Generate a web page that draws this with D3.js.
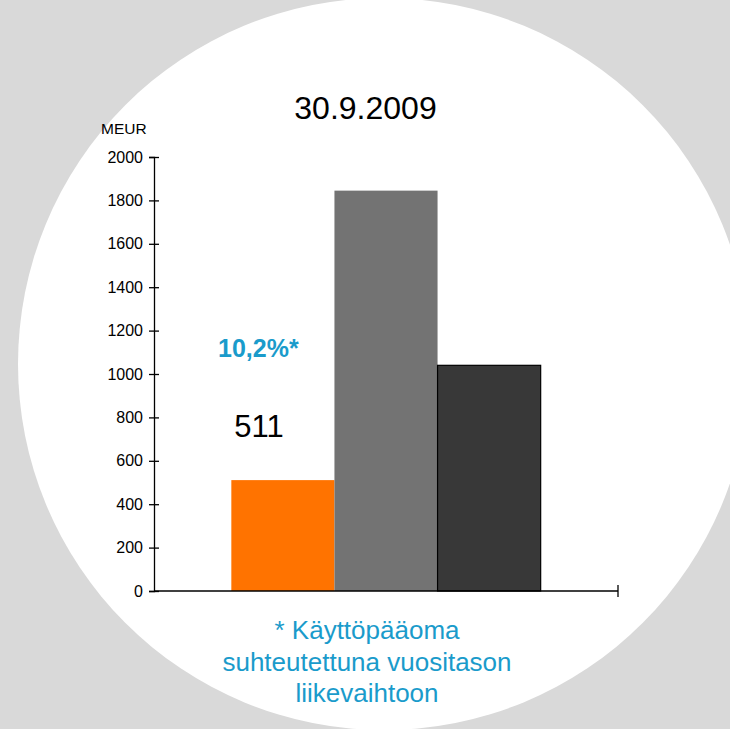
<!DOCTYPE html>
<html>
<head>
<meta charset="utf-8">
<script src="https://cdn.jsdelivr.net/npm/d3@7"></script>
<style>
  body { margin: 0; background: #d9d9d9; }
  svg { display: block; font-family: "Liberation Sans", Arial, sans-serif; }
</style>
</head>
<body>
<svg id="chart" width="730" height="729"></svg>
<script>
// chart data
const categories = ["30.9.2009"];
const seriesNames = ["s1", "s2", "s3"];
const seriesValues = [511, 1845, 1040];
const seriesColors = ["#ff7300", "#737373", "#383838"];
const yTicks = [0, 200, 400, 600, 800, 1000, 1200, 1400, 1600, 1800, 2000];
const footnote = ["* Käyttöpääoma", "suhteutettuna vuositason", "liikevaihtoon"];

const width = 730, height = 729;
const margin = { top: 157, right: 112, bottom: 138, left: 154 };

const svg = d3.select("#chart");

// background disc
svg.append("rect").attr("width", width).attr("height", height).attr("fill", "#d9d9d9");
svg.append("circle")
  .attr("cx", 384).attr("cy", 364).attr("r", 366)
  .attr("fill", "#ffffff");

const x = d3.scaleBand()
  .domain(categories)
  .range([margin.left, width - margin.right])
  .padding(0.2);

const xInner = d3.scaleBand()
  .domain(seriesNames)
  .range([0, x.bandwidth()]);

const y = d3.scaleLinear()
  .domain([0, 2000])
  .range([height - margin.bottom, margin.top]);

// title
svg.append("text")
  .attr("x", 365.5).attr("y", 119)
  .attr("text-anchor", "middle")
  .style("font-size", "32px")
  .attr("fill", "#000")
  .text(categories[0]);

svg.append("text")
  .attr("x", 101).attr("y", 134)
  .style("font-size", "15.5px")
  .attr("fill", "#000")
  .text("MEUR");

// bars
const g = svg.append("g");
g.selectAll("rect.bar")
  .data(seriesValues)
  .join("rect")
  .attr("class", "bar")
  .attr("x", (d, i) => x(categories[0]) + xInner(seriesNames[i]))
  .attr("width", xInner.bandwidth())
  .attr("y", d => y(d))
  .attr("height", d => y(0) - y(d))
  .attr("fill", (d, i) => seriesColors[i])
  .attr("stroke", (d, i) => i === 2 ? "#000" : "none")
  .attr("stroke-width", 1.2);

// y axis
const yAxis = svg.append("g")
  .attr("transform", `translate(${margin.left},0)`)
  .call(d3.axisLeft(y).tickValues(yTicks).tickFormat(d3.format("d")).tickSizeOuter(0).tickSize(5));
yAxis.select(".domain").attr("stroke", "#000").attr("stroke-width", 1.3);
yAxis.selectAll(".tick line").attr("x1", -5).attr("x2", 5).attr("stroke", "#000").attr("stroke-width", 1.3);
yAxis.selectAll(".tick text")
  .attr("x", -11)
  .style("font-size", "16px")
  .style("font-family", "'Liberation Sans', Arial, sans-serif")
  .attr("fill", "#000");

// x axis line with end tick
const [x0, x1] = x.range();
svg.append("line")
  .attr("x1", x0).attr("x2", x1)
  .attr("y1", y(0)).attr("y2", y(0))
  .attr("stroke", "#000").attr("stroke-width", 1.3);
svg.append("line")
  .attr("x1", x1).attr("x2", x1)
  .attr("y1", y(0) - 6).attr("y2", y(0) + 6)
  .attr("stroke", "#000").attr("stroke-width", 1.3);

// annotations
svg.append("text")
  .attr("x", 218).attr("y", 357)
  .style("font-size", "25px").style("font-weight", "bold")
  .attr("fill", "#1a9bcb")
  .text("10,2%*");

svg.append("text")
  .attr("x", 259).attr("y", 437)
  .attr("text-anchor", "middle")
  .style("font-size", "31px")
  .attr("fill", "#000")
  .text(seriesValues[0]);

svg.append("g").selectAll("text")
  .data(footnote)
  .join("text")
  .attr("x", 367)
  .attr("y", (d, i) => 639 + i * 31.5)
  .attr("text-anchor", "middle")
  .style("font-size", "26px")
  .attr("fill", "#1a9bcb")
  .text(d => d);
</script>
</body>
</html>
